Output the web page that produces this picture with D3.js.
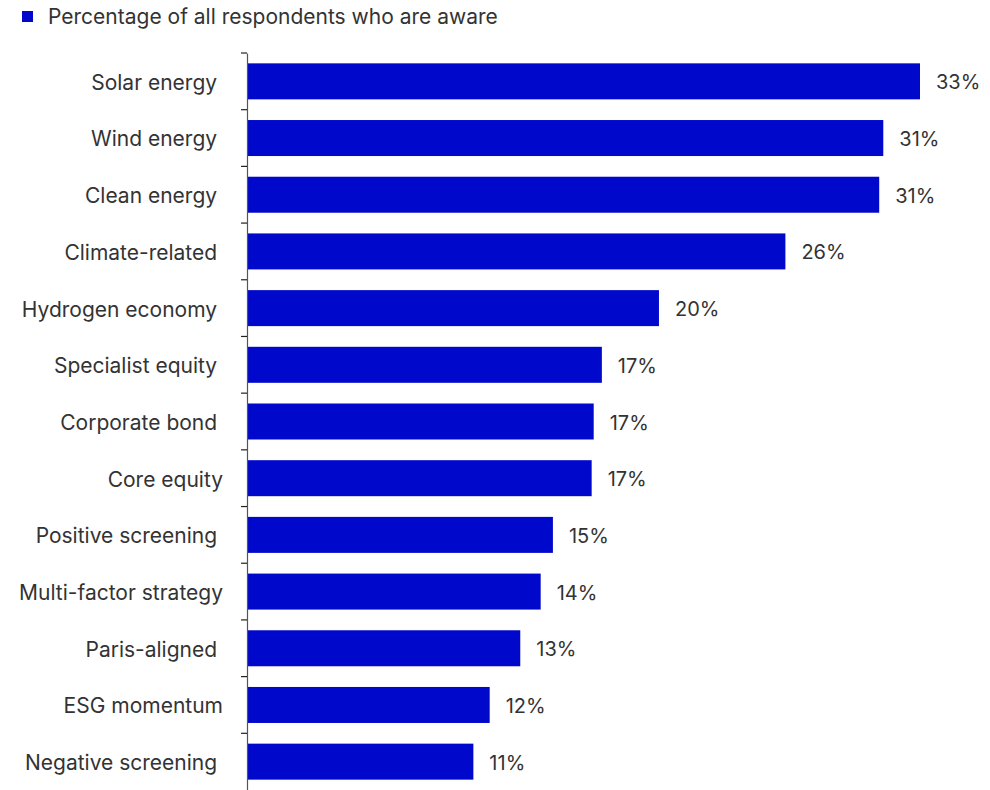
<!DOCTYPE html>
<html>
<head>
<meta charset="utf-8">
<script src="https://cdn.jsdelivr.net/npm/d3@7"></script>
<style>
  html, body { margin: 0; padding: 0; background: #fff; }
  svg { display: block; font-family: Inter, "Noto Sans", sans-serif; }
  .cat-label { white-space: pre; }
</style>
</head>
<body>
<svg id="chart" width="990" height="790"></svg>
<script>
// Awareness of fund themes (% of all respondents)
const categories = [
  "Solar energy ", "Wind energy ", "Clean energy ", "Climate-related ",
  "Hydrogen economy ", "Specialist equity ", "Corporate bond ", "Core equity",
  "Positive screening ", "Multi-factor strategy", "Paris-aligned ",
  "ESG momentum", "Negative screening "
];
const values = [33.0, 31.2, 31.0, 26.4, 20.2, 17.4, 17.0, 16.9, 15.0, 14.4, 13.4, 11.9, 11.1];
const seriesName = "Percentage of all respondents who are aware";

const barColor = "#0008cc";
const textColor = "#333333";

const svg = d3.select("#chart");
const margin = { left: 247, top: 53 };

const x = d3.scaleLinear().domain([0, 33]).range([margin.left, 920]);
const y = d3.scaleBand()
  .domain(categories)
  .range([margin.top, 790])
  .paddingInner(0.365)
  .paddingOuter(0.1825);

// Legend
const legend = svg.append("g").attr("transform", "translate(22,11)");
legend.append("rect").attr("width", 11).attr("height", 11).attr("fill", barColor);
legend.append("text")
  .attr("x", 26).attr("y", 13)
  .attr("font-size", 21)
  .attr("fill", textColor)
  .text(seriesName);

// Bars
svg.append("g").selectAll("rect")
  .data(values)
  .join("rect")
  .attr("x", x(0))
  .attr("y", (d, i) => y(categories[i]))
  .attr("width", d => x(d) - x(0))
  .attr("height", y.bandwidth())
  .attr("fill", barColor);

// Value labels
const fmt = d3.format(".0f");
svg.append("g").selectAll("text")
  .data(values)
  .join("text")
  .attr("x", d => x(d) + 16)
  .attr("y", (d, i) => y(categories[i]) + y.bandwidth() / 2)
  .attr("dy", "0.4em")
  .attr("font-size", 20)
  .attr("fill", textColor)
  .text(d => fmt(d) + "%");

// Category axis: labels at band centres, ticks on band boundaries
const axis = svg.append("g")
  .attr("transform", `translate(${x(0)},0)`)
  .call(d3.axisLeft(y).tickSize(0).tickPadding(24));
axis.select(".domain").attr("stroke", "#555").attr("stroke-width", 1.2);
axis.selectAll(".tick text")
  .attr("class", "cat-label")
  .attr("font-size", 21)
  .attr("dy", "0.4em")
  .attr("font-family", "Inter, 'Noto Sans', sans-serif")
  .attr("fill", textColor);

const boundaries = categories.map(c => y(c) - y.step() * y.paddingInner() / 2);
axis.selectAll(".boundary")
  .data(boundaries)
  .join("line")
  .attr("class", "boundary")
  .attr("x1", -6).attr("x2", 0)
  .attr("y1", d => d).attr("y2", d => d)
  .attr("stroke", "#222")
  .attr("stroke-width", 1.2);
</script>
</body>
</html>
